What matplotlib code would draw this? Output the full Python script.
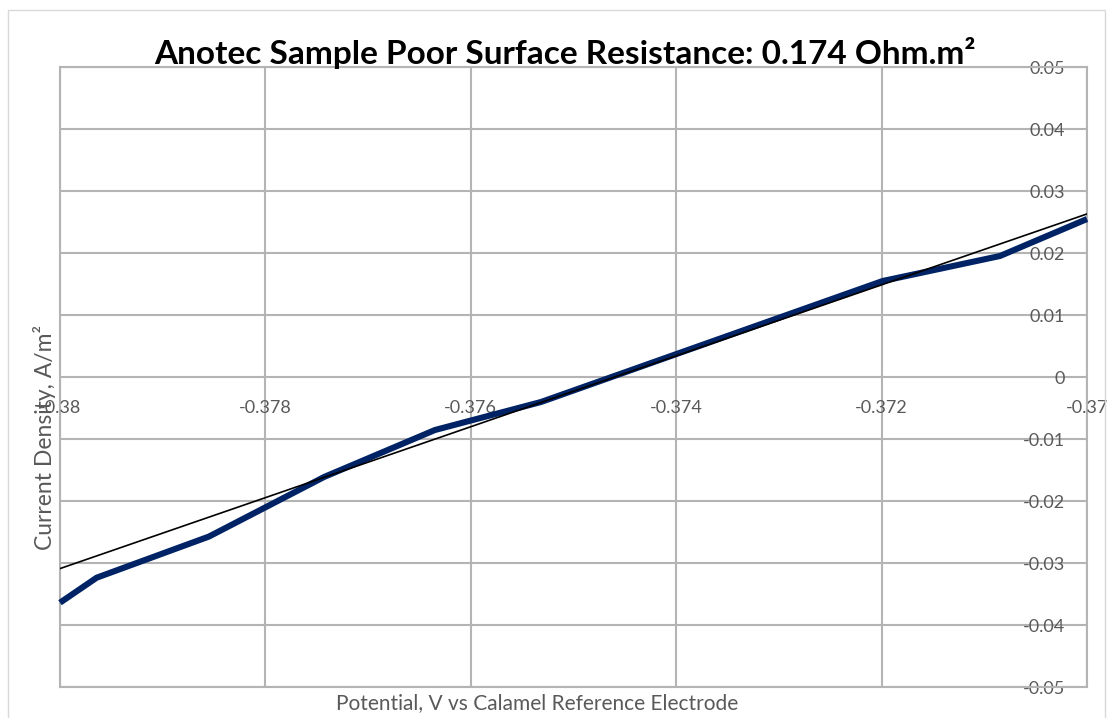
import matplotlib
matplotlib.use("Agg")
import matplotlib.pyplot as plt
from matplotlib.patches import Rectangle

# ---- data ----
potential = [-0.38, -0.379643, -0.378549, -0.377429, -0.376349, -0.375316,
             -0.37199, -0.370847, -0.37]
current = [-0.0364, -0.03237, -0.02573, -0.01613, -0.00855, -0.00403,
           0.01548, 0.01952, 0.02548]
trend_x = [-0.38, -0.37]
trend_y = [-0.0309, 0.0263]

x_ticks = [-0.38, -0.378, -0.376, -0.374, -0.372, -0.37]
x_tick_labels = ["-0.38", "-0.378", "-0.376", "-0.374", "-0.372", "-0.37"]
y_ticks = [0.05, 0.04, 0.03, 0.02, 0.01, 0, -0.01, -0.02, -0.03, -0.04, -0.05]
y_tick_labels = ["0.05", "0.04", "0.03", "0.02", "0.01", "0",
                 "-0.01", "-0.02", "-0.03", "-0.04", "-0.05"]

title = "Anotec Sample Poor Surface Resistance: 0.174 Ohm.m\u00b2"
xlabel = "Potential, V vs Calamel Reference Electrode"
ylabel = "Current Density, A/m\u00b2"

plt.rcParams['font.family'] = ['Lato', 'DejaVu Sans']

W, H = 1114, 718
fig = plt.figure(figsize=(W / 100, H / 100), dpi=100)
ax = fig.add_axes([60 / W, 1 - 687 / H, (1087 - 60) / W, (687 - 67) / H])

grid_c = "#b4b4b4"
text_c = "#595959"

ax.set_xlim(-0.38, -0.37)
ax.set_ylim(-0.05, 0.05)
ax.set_xticks(x_ticks)
ax.set_yticks(y_ticks)
ax.grid(True, color=grid_c, linewidth=1.5)
ax.set_axisbelow(True)
for s in ax.spines.values():
    s.set_color(grid_c)
    s.set_linewidth(1.5)

# y tick labels drawn at the right, inside the plot area
ax.yaxis.tick_right()
ax.set_yticklabels(y_tick_labels)
ax.tick_params(axis='y', length=0, pad=-16, labelsize=13, labelcolor=text_c)
for lab in ax.get_yticklabels():
    lab.set_horizontalalignment('right')

# x tick labels drawn along the zero line
ax.set_xticklabels([])
ax.tick_params(axis='x', length=0)
for xv, lab in zip(x_ticks, x_tick_labels):
    ax.annotate(lab, (xv, 0), xytext=(0, -22.3), textcoords='offset points',
                ha='center', va='center', fontsize=13, color=text_c,
                annotation_clip=False)

ax.plot(potential, current, color="#002366", linewidth=4.4,
        solid_joinstyle='round', solid_capstyle='butt', zorder=3, clip_on=False)
ax.plot(trend_x, trend_y, color="black", linewidth=1.2, zorder=4)

fig.text(565 / W, 1 - 53 / H, title, ha='center', va='center',
         fontsize=24, fontweight='bold', color='black')
fig.text(537 / W, 1 - 703 / H, xlabel, ha='center', va='center',
         fontsize=15, color=text_c)
fig.text(45 / W, 1 - 437 / H, ylabel, ha='center', va='center',
         fontsize=16.5, color=text_c, rotation=90)

fig.patches.append(Rectangle((8 / W, -0.01), (1105 - 8) / W, (718 - 10) / H + 0.01,
                             transform=fig.transFigure, fill=False,
                             edgecolor="#d9d9d9", linewidth=1))

fig.savefig("out.png", dpi=100)
